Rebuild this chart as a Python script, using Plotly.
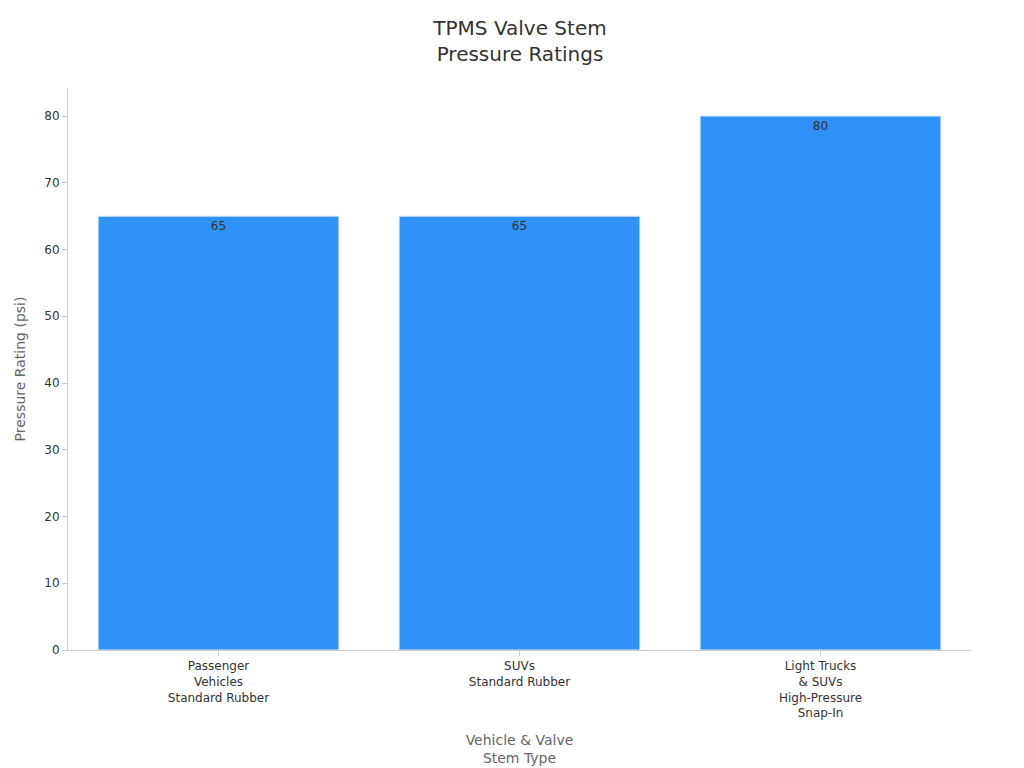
import plotly.graph_objects as go

categories = [
    "Passenger<br>Vehicles<br>Standard Rubber",
    "SUVs<br>Standard Rubber",
    "Light Trucks<br>& SUVs<br>High-Pressure<br>Snap-In",
]
pressure_psi = [65, 65, 80]

fig = go.Figure()
fig.add_trace(go.Bar(
    x=categories, y=pressure_psi,
    text=[str(v) for v in pressure_psi],
    textposition="inside", insidetextanchor="end",
    textfont=dict(color="#333333", size=12),
    marker=dict(color="#2E92F8", line=dict(color="#d8e8f8", width=1)),
))

fig.update_layout(
    width=1024, height=768,
    font=dict(family="DejaVu Sans", color="#333333", size=12),
    title=dict(text="TPMS Valve Stem<br>Pressure Ratings", x=0.5, xanchor="center",
               y=0.965, yanchor="top", font=dict(size=20, color="#333333")),
    margin=dict(l=60, r=61, t=80, b=126),
    plot_bgcolor="white", paper_bgcolor="white",
    bargap=0.2, showlegend=False,
)
fig.update_xaxes(
    title=dict(text="Vehicle & Valve<br>Stem Type", font=dict(size=14, color="#666666")),
    showline=True, linecolor="#cccccc", ticks="outside", tickcolor="#cccccc",
    showgrid=False,
)
fig.update_yaxes(
    title=dict(text="Pressure Rating (psi)", font=dict(size=14, color="#666666")),
    range=[0, 84.2], dtick=10, showline=True, linecolor="#cccccc",
    ticks="outside", tickcolor="#cccccc", showgrid=False, zeroline=False,
)

fig.write_html("out.html")
